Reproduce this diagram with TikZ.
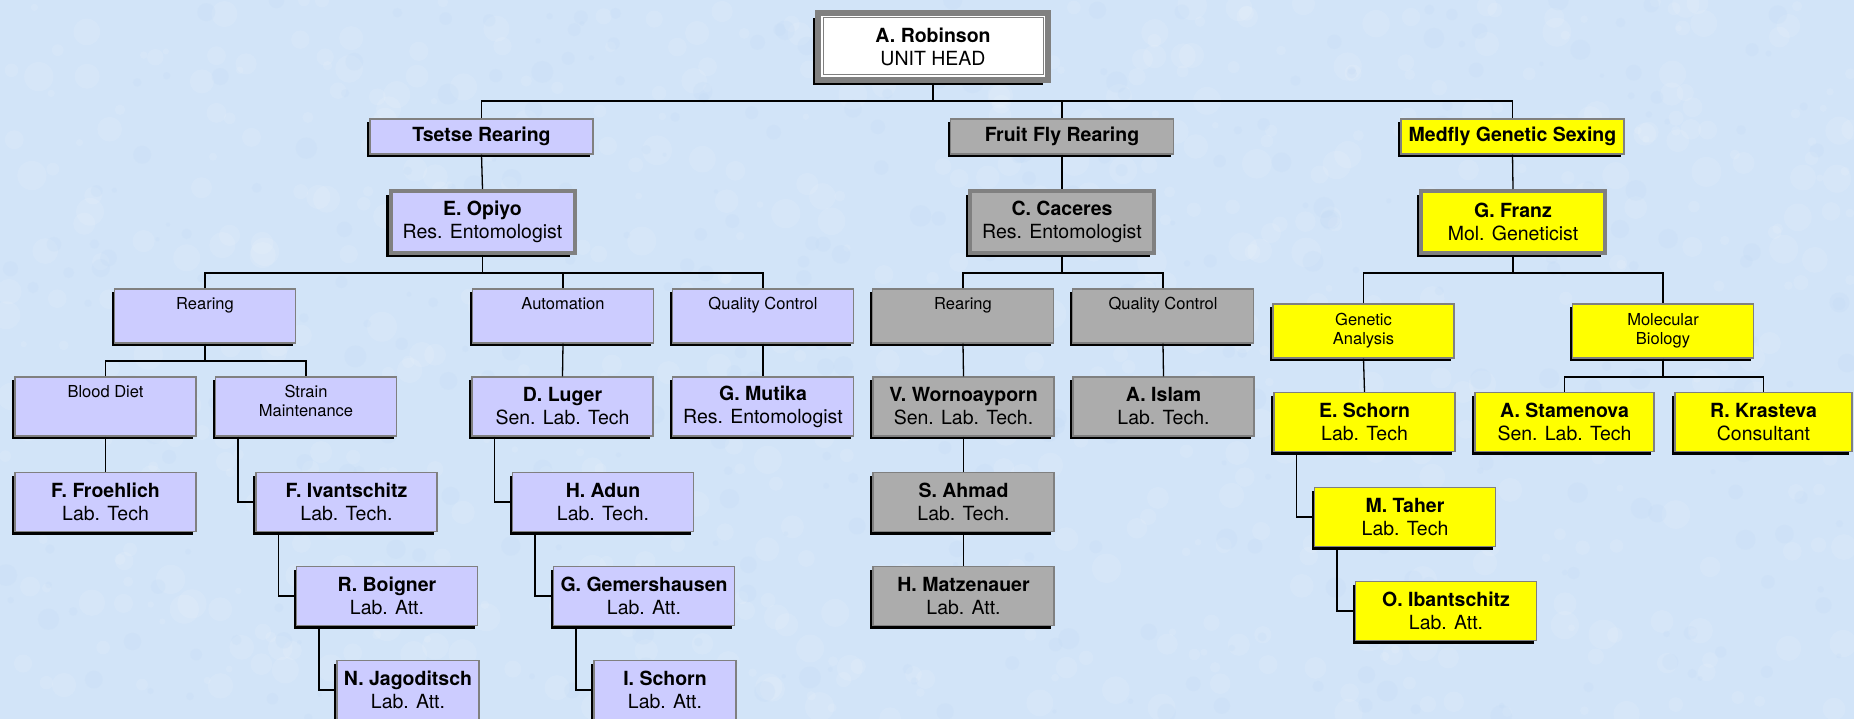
\documentclass[tikz,border=0pt]{standalone}
\usepackage{fontspec}
\setmainfont{TeX Gyre Heros}
\usetikzlibrary{shadows}

\definecolor{bgblue}{RGB}{210,228,248}
\definecolor{speck}{RGB}{190,215,244}
\definecolor{framegray}{RGB}{128,128,128}
\definecolor{lavfill}{RGB}{204,204,255}
\definecolor{greyfill}{RGB}{172,172,172}
\definecolor{yelfill}{RGB}{255,255,0}

\tikzset{
  box/.style={rectangle, draw=framegray, line width=1.2pt, inner sep=0pt, align=center,
    minimum width=181pt, minimum height=59pt,
    font=\fontsize{19.5}{23}\selectfont,
    drop shadow={shadow xshift=-3pt, shadow yshift=-3pt, opacity=1, fill=black}},
  headbox/.style={rectangle, draw=framegray, line width=6pt, fill=white, inner sep=0pt,
    align=center, minimum width=230pt, minimum height=67pt,
    font=\fontsize{19.5}{23}\selectfont,
    drop shadow={shadow xshift=-5.5pt, shadow yshift=-5.5pt, opacity=1, fill=black}},
  mgrbox/.style={rectangle, draw=framegray, line width=4pt, inner sep=0pt, align=center,
    minimum width=184pt, minimum height=62pt,
    font=\fontsize{19.5}{23}\selectfont,
    drop shadow={shadow xshift=-4.5pt, shadow yshift=-4.5pt, opacity=1, fill=black}},
  unitbox/.style={box, minimum width=223pt, minimum height=35pt,
    font=\fontsize{19.5}{23}\selectfont\bfseries},
  sectbox/.style={box, minimum height=54pt},
  secttext/.style={inner sep=0pt, align=center, anchor=north,
    font=\fontsize{16.5}{19}\selectfont},
  lastbox/.style={box, minimum width=142pt},
  tsf/.style={fill=lavfill},
  fff/.style={fill=greyfill},
  mff/.style={fill=yelfill},
  link/.style={draw=black, line width=1.3pt}
}

\begin{document}
\begin{tikzpicture}[x=1pt,y=-1pt]
% mottled paper background
\fill[bgblue] (0,0) rectangle (1854,719);
\begin{scope}
  \clip (0,0) rectangle (1854,719);
  \pgfmathsetseed{4242}
  \foreach \k in {1,...,700}{
    \pgfmathsetmacro\px{rnd*1854}
    \pgfmathsetmacro\py{rnd*719}
    \pgfmathsetmacro\pr{3+rnd*12}
    \fill[white, opacity=0.10] (\px,\py) circle[radius=\pr];
  }
  \foreach \k in {1,...,400}{
    \pgfmathsetmacro\px{rnd*1854}
    \pgfmathsetmacro\py{rnd*719}
    \pgfmathsetmacro\pr{2+rnd*9}
    \fill[speck, opacity=0.18] (\px,\py) circle[radius=\pr];
  }
\end{scope}
\useasboundingbox (0,0) rectangle (1854,719);

% ---- unit head ----
\node[headbox] (rob) at (933,46.5) {\textbf{A. Robinson}\\UNIT HEAD};
\draw[framegray, line width=1pt] ([shift={(8pt,-8pt)}]rob.north west) rectangle ([shift={(-8pt,8pt)}]rob.south east);

% ---- sections ----
\node[unitbox, tsf] (tsetse) at (481.5,136.5) {Tsetse Rearing};
\node[unitbox, fff] (fruit)  at (1062,136.5)  {Fruit Fly Rearing};
\node[unitbox, mff] (medfly) at (1512.5,136.5) {Medfly Genetic Sexing};

\node[mgrbox, tsf] (opiyo)   at (482.5,222) {\textbf{E. Opiyo}\\Res. Entomologist};
\node[mgrbox, fff] (caceres) at (1062,222)  {\textbf{C. Caceres}\\Res. Entomologist};
\node[mgrbox, mff] (franz)   at (1513,222)  {\textbf{G. Franz}\\Mol. Geneticist};

% ---- groups ----
\node[sectbox, tsf] (rearA) at (205,316) {};
\node[secttext] (rearAt) at ([yshift=-9pt]rearA.north) {Rearing};
\node[sectbox, tsf] (autom) at (563,316) {};
\node[secttext] (automt) at ([yshift=-9pt]autom.north) {Automation};
\node[sectbox, tsf] (qcA) at (763,316) {};
\node[secttext] (qcAt) at ([yshift=-9pt]qcA.north) {Quality Control};
\node[sectbox, fff] (rearB) at (963,316) {};
\node[secttext] (rearBt) at ([yshift=-9pt]rearB.north) {Rearing};
\node[sectbox, fff] (qcB) at (1163,316) {};
\node[secttext] (qcBt) at ([yshift=-9pt]qcB.north) {Quality Control};
\node[sectbox, mff] (genan) at (1363.5,331) {};
\node[secttext] (genant) at ([yshift=-10pt]genan.north) {Genetic\\Analysis};
\node[sectbox, mff] (molbio) at (1663,331) {};
\node[secttext] (molbiot) at ([yshift=-10pt]molbio.north) {Molecular\\Biology};

\node[box, tsf] (blood) at (105.5,406.5) {};
\node[secttext] (bloodt) at ([yshift=-9pt]blood.north) {Blood Diet};
\node[box, tsf] (strain) at (306,406.5) {};
\node[secttext] (straint) at ([yshift=-9pt]strain.north) {Strain\\Maintenance};

% ---- staff ----
\node[box, tsf] (froehlich) at (105.5,502) {\textbf{F. Froehlich}\\Lab. Tech};
\node[box, tsf] (ivan)      at (346.5,502) {\textbf{F. Ivantschitz}\\Lab. Tech.};
\node[box, tsf] (boigner)   at (387,596)   {\textbf{R. Boigner}\\Lab. Att.};
\node[lastbox, tsf] (jago)  at (408,690)   {\textbf{N. Jagoditsch}\\Lab. Att.};

\node[box, tsf] (luger)     at (562.5,406.5) {\textbf{D. Luger}\\Sen. Lab. Tech};
\node[box, tsf] (adun)      at (603,502)     {\textbf{H. Adun}\\Lab. Tech.};
\node[box, tsf] (gemers)    at (644,596)     {\textbf{G. Gemershausen}\\Lab. Att.};
\node[lastbox, tsf] (ischorn) at (665,690)   {\textbf{I. Schorn}\\Lab. Att.};

\node[box, tsf] (mutika)    at (763,406.5)   {\textbf{G. Mutika}\\Res. Entomologist};

\node[box, fff] (worno)     at (963.5,406.5) {\textbf{V. Wornoayporn}\\Sen. Lab. Tech.};
\node[box, fff] (ahmad)     at (963.5,502)   {\textbf{S. Ahmad}\\Lab. Tech.};
\node[box, fff] (matz)      at (963.5,596)   {\textbf{H. Matzenauer}\\Lab. Att.};
\node[box, fff] (islam)     at (1163.5,406.5) {\textbf{A. Islam}\\Lab. Tech.};

\node[box, mff] (eschorn)   at (1364.5,422) {\textbf{E. Schorn}\\Lab. Tech};
\node[box, mff] (taher)     at (1405,517)   {\textbf{M. Taher}\\Lab. Tech};
\node[box, mff] (ibant)     at (1446,611)   {\textbf{O. Ibantschitz}\\Lab. Att.};
\node[box, mff, minimum width=179pt] (stamenova) at (1564.5,422) {\textbf{A. Stamenova}\\Sen. Lab. Tech};
\node[box, mff, minimum width=177pt] (krasteva)  at (1763.5,422) {\textbf{R. Krasteva}\\Consultant};

% ---- bus points ----
\coordinate (busTop) at (933,101);
\coordinate (busTs)  at (482.5,273);
\coordinate (busFf)  at (1062,273);
\coordinate (busMf)  at (1513,273);
\coordinate (busRe)  at (205,361);
\coordinate (busMb)  at (1663,377);

% ---- connectors ----
\draw[link] (rob.south) -- (busTop);
\draw[link] (tsetse.north) |- (busTop) -| (medfly.north);
\draw[link] (fruit.north) -- (fruit.north |- busTop);

\draw[link] (tsetse.south) -- (opiyo.north);
\draw[link] (fruit.south) -- (caceres.north);
\draw[link] (medfly.south) -- (franz.north);

\draw[link] (opiyo.south) -- (busTs);
\draw[link] (rearA.north) |- (busTs) -| (qcA.north);
\draw[link] (autom.north) -- (autom.north |- busTs);

\draw[link] (caceres.south) -- (busFf);
\draw[link] (rearB.north) |- (busFf) -| (qcB.north);

\draw[link] (franz.south) -- (busMf);
\draw[link] (genan.north) |- (busMf) -| (molbio.north);

\draw[link] (rearA.south) -- (busRe);
\draw[link] (blood.north) |- (busRe) -| (strain.north);

\draw[link] (molbio.south) -- (busMb);
\draw[link] (stamenova.north) |- (busMb) -| (krasteva.north);

\draw[link] (blood.south) -- (froehlich.north);
\draw[link] (autom.south) -- (luger.north);
\draw[link] (qcA.south) -- (mutika.north);
\draw[link] (rearB.south) -- (worno.north);
\draw[link] (worno.south) -- (ahmad.north);
\draw[link] (ahmad.south) -- (matz.north);
\draw[link] (qcB.south) -- (islam.north);
\draw[link] (genan.south) -- (eschorn.north);

\draw[link] ([xshift=23pt]strain.south west) |- (ivan.west);
\draw[link] ([xshift=23pt]ivan.south west) |- (boigner.west);
\draw[link] ([xshift=23pt]boigner.south west) |- (jago.west);
\draw[link] ([xshift=23pt]luger.south west) |- (adun.west);
\draw[link] ([xshift=23pt]adun.south west) |- (gemers.west);
\draw[link] ([xshift=23pt]gemers.south west) |- (ischorn.west);
\draw[link] ([xshift=23pt]eschorn.south west) |- (taher.west);
\draw[link] ([xshift=23pt]taher.south west) |- (ibant.west);
\end{tikzpicture}
\end{document}
